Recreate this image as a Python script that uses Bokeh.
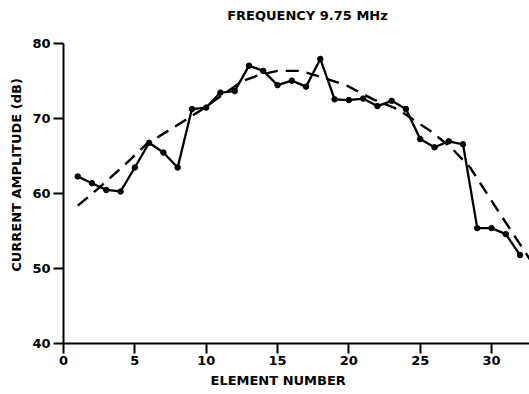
from bokeh.plotting import figure
from bokeh.models import Range1d, FixedTicker, Title, Label
from bokeh.embed import file_html
from bokeh.resources import INLINE

# Measured current amplitude (dB) per element
elements = list(range(1, 33))
amplitude = [62.3, 61.4, 60.5, 60.3, 63.5, 66.8, 65.5, 63.5, 71.3, 71.5,
             73.5, 73.7, 77.1, 76.4, 74.5, 75.1, 74.3, 78.0, 72.6, 72.5,
             72.7, 71.7, 72.4, 71.3, 67.3, 66.2, 67.0, 66.6, 55.4, 55.4,
             54.6, 51.8]

# Dashed smooth reference curve
curve_x = [1.0, 2.5, 4.2, 5.8, 7.5, 9.6, 11.0, 11.9, 12.6, 13.8, 15.0, 16.6,
           18.2, 19.9, 21.7, 23.4, 25.7, 27.2, 28.5, 30.6, 32.7]
curve_y = [58.4, 60.8, 63.7, 66.6, 68.6, 71.1, 73.0, 74.2, 75.1, 75.9, 76.4,
           76.4, 75.5, 74.4, 72.6, 71.3, 68.4, 66.1, 63.5, 57.3, 51.2]

x_ticks = [0, 5, 10, 15, 20, 25, 30]
y_ticks = [40, 50, 60, 70, 80]

title_text = "FREQUENCY 9.75 MHz"
x_label = "ELEMENT NUMBER"
y_label = "CURRENT AMPLITUDE (dB)"

FONT = "DejaVu Sans"

p = figure(width=529, height=394, output_backend="svg", toolbar_location=None,
           x_range=Range1d(0, 32.66), y_range=Range1d(40, 85),
           min_border_left=63, min_border_right=0, min_border_top=6,
           min_border_bottom=51)
p.outline_line_color = None
p.xgrid.grid_line_color = None
p.ygrid.grid_line_color = None
p.background_fill_color = "white"
p.border_fill_color = "white"

p.line(curve_x, curve_y, line_color="black", line_width=2.4, line_dash="13 8")
p.line(elements, amplitude, line_color="black", line_width=2.3)
p.scatter(elements, amplitude, size=5.5, fill_color="black", line_color="black")

for ax in (p.xaxis[0], p.yaxis[0]):
    ax.axis_line_width = 2
    ax.axis_line_color = "black"
    ax.major_tick_line_width = 2
    ax.major_tick_line_color = "black"
    ax.major_tick_out = 10
    ax.major_tick_in = 0
    ax.minor_tick_line_color = None
    ax.major_label_text_font = FONT
    ax.major_label_text_font_style = "bold"
    ax.major_label_text_font_size = "13px"
    ax.major_label_text_color = "black"

p.xaxis[0].ticker = FixedTicker(ticks=x_ticks)
p.yaxis[0].ticker = FixedTicker(ticks=y_ticks)
p.yaxis[0].bounds = (40, 80)
p.xaxis[0].major_label_standoff = 2
p.yaxis[0].major_label_standoff = 3

p.yaxis[0].axis_label = y_label
p.yaxis[0].axis_label_text_font = FONT
p.yaxis[0].axis_label_text_font_style = "bold"
p.yaxis[0].axis_label_text_font_size = "13px"
p.yaxis[0].axis_label_standoff = 5
p.yaxis[0].axis_label_text_color = "black"

p.add_layout(Label(x=17.1, y=83.85, text=title_text, text_font=FONT,
                   text_font_style="bold", text_font_size="13px",
                   text_align="center", text_baseline="middle",
                   text_color="black"))

xt = Title(text=x_label, align="left", offset=147, text_font=FONT,
           text_font_style="bold", text_font_size="13px", text_color="black",
           standoff=7)
p.add_layout(xt, "below")

open("out.html", "w").write(file_html(p, INLINE))
